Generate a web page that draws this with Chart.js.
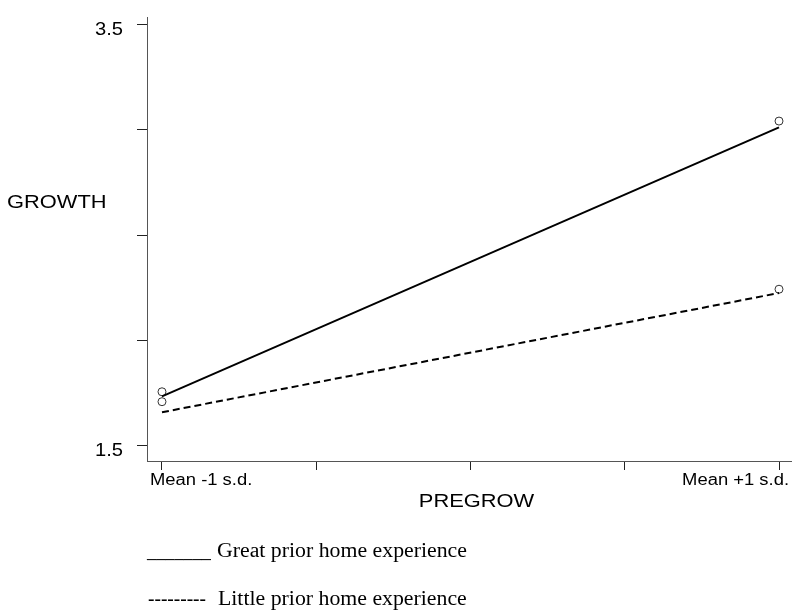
<!DOCTYPE html>
<html>
<head>
<meta charset="utf-8">
<script src="https://cdn.jsdelivr.net/npm/chart.js@4/dist/chart.umd.min.js"></script>
<style>
  html, body { margin: 0; padding: 0; background: #fff; }
  #wrap { width: 792px; height: 614px; }
</style>
</head>
<body>
<div id="wrap"><canvas id="c" width="792" height="614"></canvas></div>
<script>
// PREGROW positions (-1 s.d. / +1 s.d.) and predicted GROWTH
const xPoints = [-1, 1];
const greatFitted = [1.735, 3.01];
const littleFitted = [1.66, 2.225];
const greatObserved = [1.757, 3.04];
const littleObserved = [1.71, 2.243];

// axis ticks
const xTickValues = [-1, -0.5, 0, 0.5, 1];
const xTickLabels = ['Mean -1 s.d.', '', '', '', 'Mean +1 s.d.'];
const yTickValues = [1.5, 2, 2.5, 3, 3.5];
const yTickLabels = ['1.5', '', '', '', '3.5'];

const seriesNames = ['Great prior home experience', 'Little prior home experience'];
const xTitle = 'PREGROW';
const yTitle = 'GROWTH';

const SANS = '"Liberation Sans", Arial, Helvetica, sans-serif';
const SERIF = '"Liberation Serif", "Times New Roman", serif';
const STRETCH = 1.15;

const pts = (xs, ys) => xs.map((x, i) => ({ x: x, y: ys[i] }));

function wideText(ctx, text, x, y, font, align, sx, fitWidth) {
  ctx.save();
  ctx.font = font;
  ctx.textAlign = 'left';
  ctx.textBaseline = 'alphabetic';
  ctx.fillStyle = '#000';
  const raw = ctx.measureText(text).width;
  if (fitWidth) sx = fitWidth / raw;
  const w = raw * sx;
  const x0 = align === 'right' ? x - w : align === 'center' ? x - w / 2 : x;
  ctx.translate(x0, y);
  ctx.scale(sx, 1);
  ctx.fillText(text, 0, 0);
  ctx.restore();
}

const textPlugin = {
  id: 'axisText',
  afterDraw(chart) {
    const ctx = chart.ctx;
    const xs = chart.scales.x, ys = chart.scales.y;
    const area = chart.chartArea;

    // y tick labels
    yTickValues.forEach((v, i) => {
      if (!yTickLabels[i]) return;
      const py = ys.getPixelForValue(v);
      wideText(ctx, yTickLabels[i], area.left - 24, py + 10.5, '18px ' + SANS, 'right', 1.12);
    });

    // x tick labels: outer labels pushed outward from their ticks
    xTickValues.forEach((v, i) => {
      if (!xTickLabels[i]) return;
      const px = xs.getPixelForValue(v);
      const first = i === 0;
      wideText(ctx, xTickLabels[i], first ? px - 12 : px + 10, area.bottom + 24,
               '16px ' + SANS, first ? 'left' : 'right', STRETCH);
    });

    // axis titles
    wideText(ctx, yTitle, 7, 208, '19px ' + SANS, 'left', STRETCH);
    wideText(ctx, xTitle, xs.getPixelForValue(0) + 6, 506.5, '19px ' + SANS, 'center', STRETCH);

    // key below the plot
    wideText(ctx, '_______', 147, 557, '20px ' + SERIF, 'left', 1, 64);
    wideText(ctx, seriesNames[0], 217, 556.5, '20px ' + SERIF, 'left', 1.09);
    wideText(ctx, '---------', 148, 604.5, '20px ' + SERIF, 'left', 1, 58);
    wideText(ctx, seriesNames[1], 218, 604.5, '20px ' + SERIF, 'left', 1.09);
  }
};

new Chart(document.getElementById('c'), {
  type: 'scatter',
  data: {
    datasets: [
      {
        label: seriesNames[0],
        data: pts(xPoints, greatFitted),
        showLine: true,
        borderColor: '#000',
        borderWidth: 2,
        pointRadius: 0
      },
      {
        label: seriesNames[1],
        data: pts(xPoints, littleFitted),
        showLine: true,
        borderColor: '#000',
        borderWidth: 2,
        borderDash: [7, 4],
        pointRadius: 0
      },
      {
        label: seriesNames[0] + ' (observed)',
        data: pts(xPoints, greatObserved),
        showLine: false,
        pointRadius: 4,
        pointBorderWidth: 1,
        pointBorderColor: '#333',
        pointBackgroundColor: '#fff'
      },
      {
        label: seriesNames[1] + ' (observed)',
        data: pts(xPoints, littleObserved),
        showLine: false,
        pointRadius: 4,
        pointBorderWidth: 1,
        pointBorderColor: '#333',
        pointBackgroundColor: '#fff'
      }
    ]
  },
  options: {
    responsive: false,
    animation: false,
    layout: { autoPadding: false, padding: { top: 17, left: 0, right: 0, bottom: 0 } },
    plugins: { legend: { display: false }, tooltip: { enabled: false } },
    scales: {
      x: {
        type: 'linear',
        min: -1.0486,
        max: 1.0421,
        afterBuildTicks: s => { s.ticks = xTickValues.map(v => ({ value: v })); },
        afterFit: s => { s.height = 153; },
        ticks: { display: false },
        grid: { drawOnChartArea: false, drawTicks: true, tickLength: 9, color: '#222', lineWidth: 1 },
        border: { display: true, color: '#555', width: 1 }
      },
      y: {
        type: 'linear',
        min: 1.4289,
        max: 3.5332,
        afterBuildTicks: s => { s.ticks = yTickValues.map(v => ({ value: v })); },
        afterFit: s => { s.width = 147; },
        ticks: { display: false },
        grid: { drawOnChartArea: false, drawTicks: true, tickLength: 10, color: '#222', lineWidth: 1 },
        border: { display: true, color: '#555', width: 1 }
      }
    }
  },
  plugins: [textPlugin]
});
</script>
</body>
</html>
